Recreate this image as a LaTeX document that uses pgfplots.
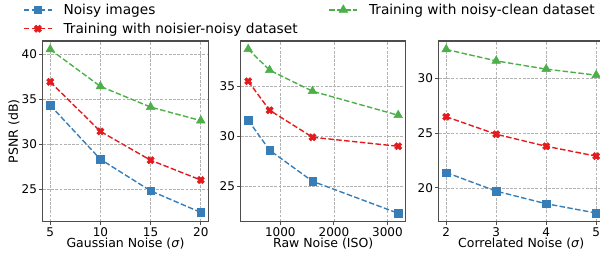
\documentclass[border=0pt]{standalone}
\usepackage{fontspec}
\setmainfont{DejaVu Sans}
\usepackage{pgfplots}
\pgfplotsset{compat=1.18}
\definecolor{cblue}{HTML}{377EB8}
\definecolor{cred}{HTML}{E41A1C}
\definecolor{cgreen}{HTML}{4DAF4A}
\definecolor{spine}{HTML}{4D4D4D}
\pgfdeclareplotmark{fatx}{%
  \pgftransformrotate{45}%
  \pgfmathsetlengthmacro\fxr{1.25*\pgfplotmarksize}%
  \pgfmathsetlengthmacro\fxa{0.45*\pgfplotmarksize}%
  \pgfpathmoveto{\pgfqpoint{-\fxa}{\fxr}}%
  \pgfpathlineto{\pgfqpoint{\fxa}{\fxr}}%
  \pgfpathlineto{\pgfqpoint{\fxa}{\fxa}}%
  \pgfpathlineto{\pgfqpoint{\fxr}{\fxa}}%
  \pgfpathlineto{\pgfqpoint{\fxr}{-\fxa}}%
  \pgfpathlineto{\pgfqpoint{\fxa}{-\fxa}}%
  \pgfpathlineto{\pgfqpoint{\fxa}{-\fxr}}%
  \pgfpathlineto{\pgfqpoint{-\fxa}{-\fxr}}%
  \pgfpathlineto{\pgfqpoint{-\fxa}{-\fxa}}%
  \pgfpathlineto{\pgfqpoint{-\fxr}{-\fxa}}%
  \pgfpathlineto{\pgfqpoint{-\fxr}{\fxa}}%
  \pgfpathlineto{\pgfqpoint{-\fxa}{\fxa}}%
  \pgfpathclose
  \pgfusepathqfillstroke
}
\newcommand{\fst}{\fontsize{12}{14}\selectfont}
\newcommand{\fsl}{\fontsize{12.5}{14.5}\selectfont}
\newcommand{\fsg}{\fontsize{13.7}{15.7}\selectfont}
\pgfplotsset{
  panel/.style={
    scale only axis, width=165pt, height=180.7pt,
    axis line style={spine, line width=1.2pt},
    tick align=outside, tick pos=left, major tick length=3.5pt,
    every tick/.style={spine, line width=0.9pt},
    grid=major,
    grid style={color=black!30, line width=0.6pt, dash pattern=on 2.9pt off 1.3pt},
    tick label style={font=\fst, inner sep=2pt},
    label style={font=\fsl},
    /pgf/number format/assume math mode=true,
    /pgf/number format/1000 sep={},
    scaled ticks=false,
    clip=false,
    ylabel style={at={(axis description cs:-0.173,0.5)}, anchor=center},
    xlabel style={at={(axis description cs:0.5,-0.120)}, anchor=center},
    legend image code/.code={\draw[mark repeat=2,mark phase=2,#1] plot coordinates {(0pt,0pt)(14pt,0pt)(28pt,0pt)};},
  },
  sblue/.style={color=cblue, line width=1.4pt, dash pattern=on 5.5pt off 2.4pt, mark=square*, mark size=3.7pt, mark options={solid, fill=cblue, line width=0.5pt}},
  sred/.style={color=cred, line width=1.4pt, dash pattern=on 5.5pt off 2.4pt, mark=fatx, mark size=3pt, mark options={solid, fill=cred, line width=0.5pt}},
  sgreen/.style={color=cgreen, line width=1.4pt, dash pattern=on 5.5pt off 2.4pt, mark=triangle*, mark size=5pt, mark options={solid, fill=cgreen, line width=0.5pt}},
}
\begin{document}
\begin{tikzpicture}
\useasboundingbox (0,0) rectangle (600pt,254pt);
% Panel 1
\begin{axis}[panel, at={(42.7pt,32.3pt)}, anchor=south west,
  width=165.6pt,
  xmin=4.25, xmax=20.75, ymin=21.37, ymax=41.44,
  xtick={5,10,15,20}, ytick={25,30,35,40},
  xlabel={Gaussian Noise (\textit{σ})}, ylabel={PSNR (dB)},
  legend columns=2, legend cell align=left,
  legend style={draw=none, fill=none, inner sep=0pt, font=\fsg,
    at={(axis description cs:-0.119,1.2175)}, anchor=north west,
    /tikz/every odd column/.append style={column sep=9pt},
    /tikz/every even column/.append style={column sep=29pt},
    row sep=3pt},
]
\addplot[sblue] coordinates {(5,34.3) (10,28.3) (15,24.8) (20,22.4)};
\addlegendentry{Noisy images}
\addplot[sgreen] coordinates {(5,40.5) (10,36.4) (15,34.1) (20,32.6)};
\addlegendentry{Training with noisy-clean dataset}
\addplot[sred] coordinates {(5,36.9) (10,31.4) (15,28.2) (20,26.0)};
\addlegendentry{Training with noisier-noisy dataset}
\end{axis}
% Panel 2
\begin{axis}[panel, at={(240.7pt,32.3pt)}, anchor=south west,
  xmin=260, xmax=3340, ymin=21.46, ymax=39.52,
  xtick={1000,2000,3000}, ytick={25,30,35},
  xlabel={Raw Noise (ISO)},
]
\addplot[sblue] coordinates {(400,31.6) (800,28.6) (1600,25.5) (3200,22.3)};
\addplot[sgreen] coordinates {(400,38.7) (800,36.6) (1600,34.5) (3200,32.1)};
\addplot[sred] coordinates {(400,35.5) (800,32.6) (1600,29.9) (3200,29.0)};
\end{axis}
% Panel 3
\begin{axis}[panel, at={(438.7pt,32.3pt)}, anchor=south west,
  xmin=1.85, xmax=5.15, ymin=16.91, ymax=33.42,
  xtick={2,3,4,5}, ytick={20,25,30},
  xlabel={Correlated Noise (\textit{σ})},
]
\addplot[sblue] coordinates {(2,21.4) (3,19.7) (4,18.55) (5,17.7)};
\addplot[sgreen] coordinates {(2,32.65) (3,31.6) (4,30.85) (5,30.3)};
\addplot[sred] coordinates {(2,26.5) (3,24.9) (4,23.8) (5,22.9)};
\end{axis}
\end{tikzpicture}
\end{document}
